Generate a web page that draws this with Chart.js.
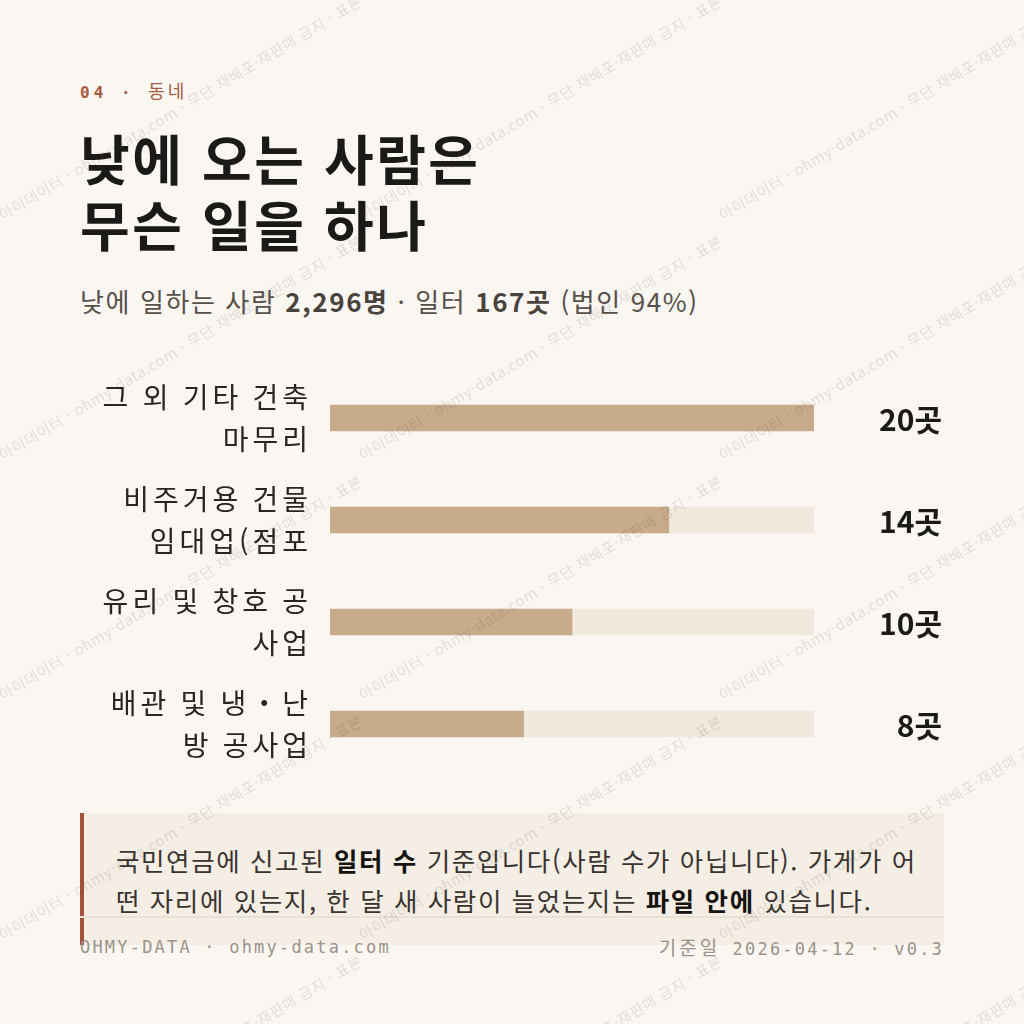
<!DOCTYPE html>
<html lang="ko">
<head>
<meta charset="utf-8">
<script src="https://cdn.jsdelivr.net/npm/chart.js@4"></script>
<style>
  html, body { margin: 0; padding: 0; }
  body { width: 1024px; height: 1024px; background: #faf7f2; position: relative; overflow: hidden;
         font-family: "Noto Sans CJK KR", "Noto Sans", sans-serif; }
  .abs { position: absolute; }
  #kicker { left: 80px; top: 79px; font: bold 16px "DejaVu Sans Mono", monospace; letter-spacing: 4px; color: #a85a3e; line-height: 22px; }
  #kicker .ko { font-family: "Noto Sans CJK KR"; font-weight: 400; font-size: 18px; letter-spacing: 3px; }
  #title { left: 80px; top: 125px; font-weight: 700; font-size: 54px; letter-spacing: 2.5px; line-height: 66px; color: #1c1a18; margin: 0; }
  #sub { left: 80px; top: 284px; font-size: 26px; letter-spacing: 1.6px; line-height: 34px; color: #57504a; }
  #sub b { color: #4a433d; }
  #chartBox { left: 80px; top: 367px; width: 864px; height: 408px; }
  #note { left: 80px; top: 813px; width: 864px; height: 132px; background: #f4eee5; border-left: 4px solid #a4533a;
          padding: 27px 20px 0 32px; box-sizing: border-box; font-size: 25.5px; letter-spacing: 1.6px; line-height: 40px; color: #3a3430; }
  #note b { color: #161412; }
  #rule { left: 80px; top: 916px; width: 864px; height: 2px; background: #e9e1d5; }
  .foot { top: 935px; font: 17px "DejaVu Sans Mono", monospace; letter-spacing: 2.2px; color: #9c928a; line-height: 24px; }
  .foot .ko { font-family: "Noto Sans CJK KR"; font-size: 19px; letter-spacing: 3px; }
  #wm { left: 0; top: 0; width: 1024px; height: 1024px; pointer-events: none; }
  .tile { position: absolute; width: 360px; height: 240px; overflow: hidden; }
  .tile span { position: absolute; left: 0; top: 215px; white-space: nowrap; font: 15px "Noto Sans CJK KR"; color: rgba(60,50,40,0.13);
               transform: rotate(-31deg); transform-origin: 0 50%; letter-spacing: 0.6px; }
</style>
</head>
<body>
<div id="kicker" class="abs">04 · <span class="ko">동네</span></div>
<h1 id="title" class="abs">낮에 오는 사람은<br>무슨 일을 하나</h1>
<div id="sub" class="abs">낮에 일하는 사람 <b>2,296명</b> · 일터 <b>167곳</b> (법인 94%)</div>
<div id="chartBox" class="abs"><canvas id="chart"></canvas></div>
<div id="note" class="abs">국민연금에 신고된 <b>일터 수</b> 기준입니다(사람 수가 아닙니다). 가게가 어떤 자리에 있는지, 한 달 새 사람이 늘었는지는 <b>파일 안에</b> 있습니다.</div>
<div id="rule" class="abs"></div>
<div class="abs foot" style="left:80px">OHMY-DATA · ohmy-data.com</div>
<div class="abs foot" style="right:80px"><span class="ko">기준일</span> 2026-04-12 · v0.3</div>
<div id="wm" class="abs"></div>
<script>
const categories = [
  ["그 외 기타 건축", "마무리"],
  ["비주거용 건물", "임대업(점포"],
  ["유리 및 창호 공", "사업"],
  ["배관 및 냉・난", "방 공사업"],
];
const counts = [20, 14, 10, 8];
const unit = "곳";

const watermarkText = "아이데이터 · ohmy-data.com · 무단 재배포·재판매 금지 · 표본";

function buildWatermark() {
  const wm = document.getElementById("wm");
  for (let r = 0; r < 5; r++) {
    for (let c = 0; c < 3; c++) {
      const tile = document.createElement("div");
      tile.className = "tile";
      tile.style.left = c * 360 + "px";
      tile.style.top = r * 240 - 10 + "px";
      const span = document.createElement("span");
      span.textContent = watermarkText;
      tile.appendChild(span);
      wm.appendChild(tile);
    }
  }
}

const maxCount = Math.max(...counts);

// canvas text has no css letter-spacing, so set it on the context
const spacing = {
  id: "spacing",
  beforeDraw(chart) {
    chart.ctx.letterSpacing = "4px";
  },
};

const valueLabels = {
  id: "valueLabels",
  afterDatasetsDraw(chart) {
    const ctx = chart.ctx;
    const y = chart.scales.y;
    ctx.save();
    ctx.letterSpacing = "0px";
    ctx.font = "bold 30px 'Noto Sans CJK KR'";
    ctx.fillStyle = "#1c1a18";
    ctx.textAlign = "right";
    ctx.textBaseline = "middle";
    counts.forEach((v, i) => {
      ctx.fillText(v + unit, chart.width - 2, y.getPixelForValue(i) + 2);
    });
    ctx.restore();
  },
};

function initialize() {
  buildWatermark();
  new Chart(document.getElementById("chart").getContext("2d"), {
    type: "bar",
    plugins: [spacing, valueLabels],
    data: {
      labels: categories,
      datasets: [
        {
          label: "일터 수",
          data: counts,
          backgroundColor: "#c8ab8b",
          barThickness: 26,
          grouped: false,
        },
        {
          label: "track",
          data: counts.map(() => maxCount),
          backgroundColor: "#f1e9dd",
          barThickness: 26,
          grouped: false,
        },
      ],
    },
    options: {
      indexAxis: "y",
      responsive: true,
      maintainAspectRatio: false,
      animation: false,
      layout: { padding: { left: 0, right: 130, top: 0, bottom: 0 } },
      plugins: { legend: { display: false }, tooltip: { enabled: false } },
      scales: {
        x: {
          display: false,
          min: 0,
          max: maxCount,
        },
        y: {
          grid: { display: false, drawTicks: false },
          border: { display: false },
          ticks: {
            padding: 18,
            color: "#2a2522",
            font: { family: "Noto Sans CJK KR", size: 28, lineHeight: 1.5 },
          },
          afterFit(scale) {
            scale.width = 250;
            scale.paddingTop = 0;
            scale.paddingBottom = 0;
          },
        },
      },
    },
  });
}

initialize();
</script>
</body>
</html>
